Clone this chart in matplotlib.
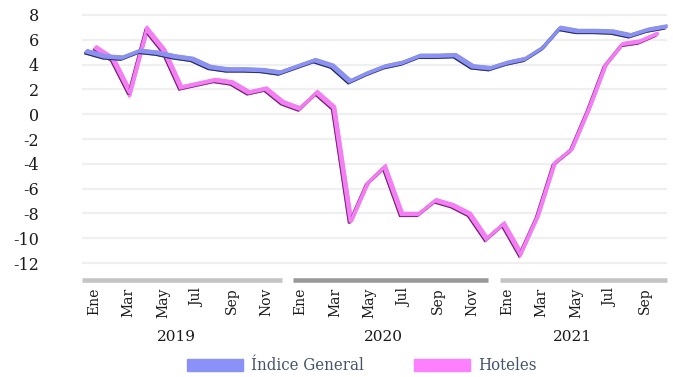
import matplotlib
matplotlib.use("Agg")
import matplotlib.pyplot as plt
from matplotlib import transforms
from matplotlib.patches import Patch

# Monthly year-on-year variation (%), Jan 2019 - Oct 2021
month_names = ["Ene", "Feb", "Mar", "Abr", "May", "Jun",
               "Jul", "Ago", "Sep", "Oct", "Nov", "Dic"]
years = ["2019", "2020", "2021"]
months_per_year = [12, 12, 10]

indice_general = [4.9, 4.5, 4.4, 4.95, 4.8, 4.5, 4.3, 3.65, 3.45, 3.45, 3.4, 3.2,
                  3.7, 4.2, 3.75, 2.5, 3.15, 3.7, 4.0, 4.55, 4.55, 4.6, 3.7, 3.55,
                  4.0, 4.3, 5.2, 6.8, 6.55, 6.55, 6.5, 6.2, 6.65, 6.9]
hoteles = [5.2, 4.3, 1.6, 6.7, 5.0, 2.0, 2.3, 2.6, 2.4, 1.6, 1.9, 0.8,
           0.3, 1.6, 0.4, -8.8, -5.7, -4.4, -8.2, -8.2, -7.1, -7.5, -8.2, -10.2,
           -9.0, -11.4, -8.4, -4.1, -3.0, 0.2, 3.8, 5.5, 5.7, 6.3]
y_ticks = list(range(-12, 9, 2))

series_labels = ["Índice General", "Hoteles"]
face_colors = ["#8b92f0", "#f47ff4"]
edge_colors = ["#25265a", "#6a2068"]
legend_colors = ["#8a91f7", "#ff80ff"]
depth_scale = [1.018, 0.987]   # slight perspective: front series wider, back narrower

plt.rcParams["font.family"] = "DejaVu Serif"
plt.rcParams["axes.unicode_minus"] = False

W, H = 673, 377
fig = plt.figure(figsize=(W / 100, H / 100), dpi=100)
ax = fig.add_axes([82 / W, 1 - 266 / H, 585 / W, 254 / H])

n = len(indice_general)
idx = list(range(n))
mid = (n - 1) / 2
ax.set_xlim(-0.5, n - 0.5)
ax.set_ylim(-12.24, 8.24)

ax.set_yticks(y_ticks)
ax.grid(axis="y", color="#efefef", lw=1.6)
ax.set_axisbelow(True)
for s in ax.spines.values():
    s.set_visible(False)

# month tick labels: every other month
labels = []
for cnt in months_per_year:
    labels += month_names[:cnt]
ax.set_xticks(idx[::2])
ax.set_xticklabels(labels[::2], rotation=90, fontsize=10, color="#1a1a1a")
ax.tick_params(axis="x", length=0, pad=15.5)
ax.tick_params(axis="y", length=0, pad=31, labelsize=11.5, labelcolor="#1a1a1a")
nudge = transforms.ScaledTranslation(3.5 / 100, 0, fig.dpi_scale_trans)
for lab in ax.get_xticklabels():
    lab.set_transform(lab.get_transform() + nudge)


def ribbon(xs, ys, face, edge, dx=2.6, dy=2.6, steps=8, z=3):
    """Draw a line as an extruded 3D-looking ribbon."""
    for k in range(steps, 0, -1):
        tr = transforms.offset_copy(ax.transData, fig=fig, x=dx * k / steps,
                                    y=dy * k / steps, units="dots")
        ax.plot(xs, ys, color=face, lw=2.3, transform=tr, clip_on=False,
                solid_joinstyle="miter", zorder=z)
    ax.plot(xs, ys, color=edge, lw=1.6, clip_on=False,
            solid_joinstyle="miter", zorder=z + 0.1)
    tr = transforms.offset_copy(ax.transData, fig=fig, x=0.9, y=1.0, units="dots")
    ax.plot(xs, ys, color=face, lw=1.8, transform=tr, clip_on=False,
            solid_joinstyle="miter", zorder=z + 0.2)


# back series first (Hoteles), then front series (Índice General)
xs_pink = [mid + (i - mid) * depth_scale[1] for i in idx]
xs_blue = [mid + (i - mid) * depth_scale[0] for i in idx]
ribbon(xs_pink, hoteles, face_colors[1], edge_colors[1], z=3)
ribbon(xs_blue, indice_general, face_colors[0], edge_colors[0], z=5)

# year group bars and labels under the month labels
trans = transforms.blended_transform_factory(ax.transData, ax.transAxes)
bar_colors = ["#c4c4c4", "#999999", "#c4c4c4"]
start = 0
for yi, (yr, cnt) in enumerate(zip(years, months_per_year)):
    x0 = start - 0.5 + (0.27 if yi > 0 else 0)
    x1 = start + cnt - 0.5 - (0.4 if yi < len(years) - 1 else 0)
    ax.plot([x0, x1], [-0.055, -0.055], transform=trans, clip_on=False,
            color=bar_colors[yi], lw=3.3, solid_capstyle="butt")
    ticks_in = [i for i in range(start, start + cnt) if i % 2 == 0]
    xc = sum(ticks_in) / len(ticks_in)
    ax.text(xc, -0.28, yr, transform=trans, ha="center", va="center",
            fontsize=11, color="#1a1a1a")
    start += cnt

handles = [Patch(color=c, label=l) for c, l in zip(legend_colors, series_labels)]
fig.legend(handles=handles, loc="center", bbox_to_anchor=(362 / W, 1 - 366 / H),
           ncol=2, frameon=False, handlelength=3.35, handleheight=0.72,
           handletextpad=0.5, columnspacing=3.0, labelcolor="#44546a",
           prop=dict(family="DejaVu Serif", stretch="condensed", size=12))

fig.savefig("out.png", dpi=100)
